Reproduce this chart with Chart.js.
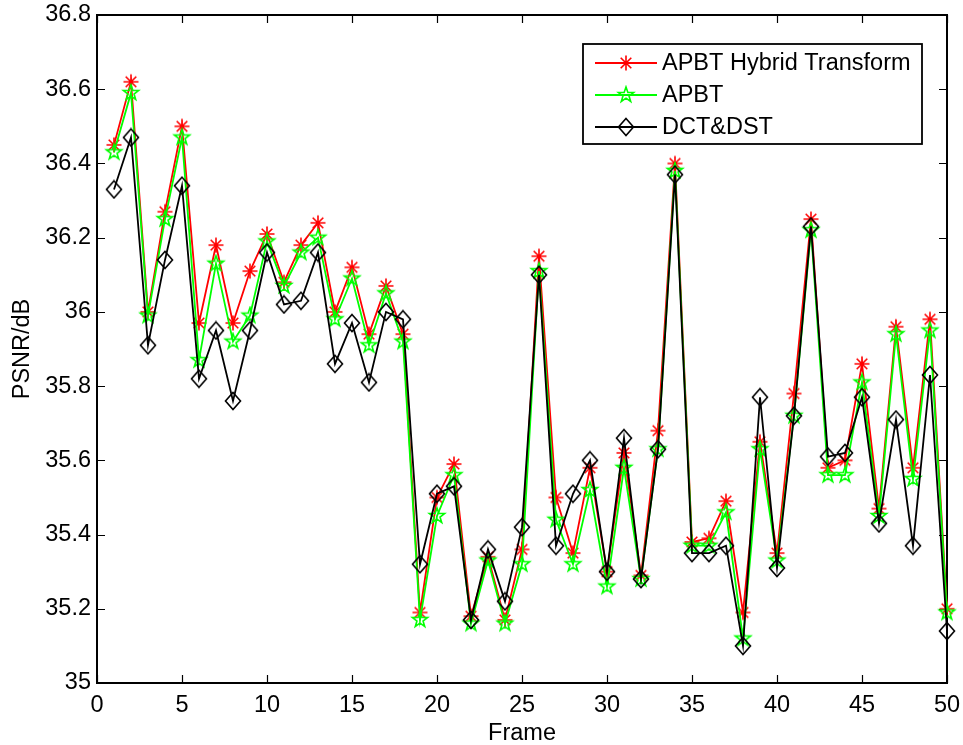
<!DOCTYPE html>
<html>
<head>
<meta charset="utf-8">
<script src="https://cdn.jsdelivr.net/npm/chart.js@4/dist/chart.umd.min.js"></script>
<style>
    body { margin: 0; background: #fff; }
    canvas { display: block; }
</style>
</head>
<body>
<canvas id="psnrChart" width="963" height="745"></canvas>
<script>
//#region Data
const frames = [1, 2, 3, 4, 5, 6, 7, 8, 9, 10, 11, 12, 13, 14, 15, 16, 17, 18, 19, 20,
    21, 22, 23, 24, 25, 26, 27, 28, 29, 30, 31, 32, 33, 34, 35, 36, 37, 38, 39, 40,
    41, 42, 43, 44, 45, 46, 47, 48, 49, 50]

const apbtHybrid = [36.45, 36.62, 36.00, 36.27, 36.50, 35.97, 36.18, 35.97, 36.11, 36.21,
    36.08, 36.18, 36.24, 36.00, 36.12, 35.94, 36.07, 35.94, 35.19, 35.50,
    35.59, 35.18, 35.34, 35.17, 35.36, 36.15, 35.50, 35.35, 35.58, 35.30,
    35.62, 35.29, 35.68, 36.40, 35.38, 35.39, 35.49, 35.19, 35.65, 35.35,
    35.78, 36.25, 35.58, 35.60, 35.86, 35.47, 35.96, 35.58, 35.98, 35.20]

const apbt = [36.43, 36.59, 35.99, 36.25, 36.47, 35.87, 36.13, 35.92, 35.99, 36.19,
    36.07, 36.16, 36.20, 35.98, 36.09, 35.91, 36.05, 35.92, 35.17, 35.45,
    35.56, 35.16, 35.33, 35.16, 35.32, 36.11, 35.44, 35.32, 35.52, 35.26,
    35.58, 35.28, 35.63, 36.38, 35.37, 35.37, 35.46, 35.12, 35.63, 35.33,
    35.72, 36.22, 35.56, 35.56, 35.81, 35.45, 35.94, 35.55, 35.95, 35.19]

const dctDst = [36.33, 36.47, 35.91, 36.14, 36.34, 35.82, 35.95, 35.76, 35.95, 36.16,
    36.02, 36.03, 36.16, 35.86, 35.97, 35.81, 36.00, 35.98, 35.32, 35.51,
    35.53, 35.17, 35.36, 35.22, 35.42, 36.10, 35.37, 35.51, 35.60, 35.30,
    35.66, 35.28, 35.63, 36.37, 35.35, 35.35, 35.37, 35.10, 35.77, 35.31,
    35.72, 36.23, 35.61, 35.62, 35.77, 35.43, 35.71, 35.37, 35.83, 35.14]

const seriesNames = ["APBT Hybrid Transform", "APBT", "DCT&DST"]
//#endregion

//#region Markers
MakeMarker = (kind, color) => {
    let c = document.createElement("canvas")
    c.width = 20
    c.height = 20
    let g = c.getContext("2d")
    g.strokeStyle = color
    g.lineWidth = 1.6
    g.translate(10, 10)
    g.beginPath()
    if (kind == "asterisk") {
        for (let k = 0; k < 4; k++) {
            let a = k * Math.PI / 4
            g.moveTo(-7.5 * Math.cos(a), -7.5 * Math.sin(a))
            g.lineTo(7.5 * Math.cos(a), 7.5 * Math.sin(a))
        }
    } else if (kind == "pentagram") {
        for (let k = 0; k < 10; k++) {
            let r = k % 2 ? 3.2 : 8
            let a = -Math.PI / 2 + k * Math.PI / 5
            k ? g.lineTo(r * Math.cos(a), r * Math.sin(a)) : g.moveTo(r * Math.cos(a), r * Math.sin(a))
        }
        g.closePath()
    } else {
        g.moveTo(0, -8.5)
        g.lineTo(7.5, 0)
        g.lineTo(0, 8.5)
        g.lineTo(-7.5, 0)
        g.closePath()
    }
    g.stroke()
    return c
}

const markers = [MakeMarker("asterisk", "#ff0000"), MakeMarker("pentagram", "#00ff00"), MakeMarker("diamond", "#000000")]
const colors = ["#ff0000", "#00ff00", "#000000"]
//#endregion

//#region Plugins
const fontFamily = "'Liberation Sans', Arial, sans-serif"

const boxPlugin = {
    id: "matlabBox",
    beforeDatasetsDraw: chart => {
        let { ctx, chartArea: a, scales: { x, y } } = chart
        ctx.save()
        ctx.strokeStyle = "#000"
        ctx.lineWidth = 1.2
        ctx.beginPath()
        x.ticks.forEach(t => {
            let px = Math.round(x.getPixelForValue(t.value)) + 0.5
            ctx.moveTo(px, a.bottom); ctx.lineTo(px, a.bottom - 8)
            ctx.moveTo(px, a.top); ctx.lineTo(px, a.top + 8)
        })
        y.ticks.forEach(t => {
            let py = Math.round(y.getPixelForValue(t.value)) + 0.5
            ctx.moveTo(a.left, py); ctx.lineTo(a.left + 8, py)
            ctx.moveTo(a.right, py); ctx.lineTo(a.right - 8, py)
        })
        ctx.stroke()
        ctx.lineWidth = 2
        ctx.strokeRect(a.left, a.top, a.right - a.left, a.bottom - a.top)
        ctx.restore()
    },
    afterDraw: chart => {
        let ctx = chart.ctx
        ctx.save()
        ctx.fillStyle = "#fff"
        ctx.fillRect(583, 44, 339, 100)
        ctx.strokeStyle = "#000"
        ctx.lineWidth = 1.8
        ctx.strokeRect(583, 44, 339, 100)
        ctx.font = "23.5px " + fontFamily
        ctx.textBaseline = "middle"
        seriesNames.forEach((name, i) => {
            let ly = 63 + i * 32
            ctx.strokeStyle = colors[i]
            ctx.lineWidth = 1.8
            ctx.beginPath()
            ctx.moveTo(595, ly)
            ctx.lineTo(657, ly)
            ctx.stroke()
            ctx.drawImage(markers[i], 626 - 10, ly - 10)
            ctx.fillStyle = "#000"
            ctx.fillText(name, 662, ly + 1)
        })
        ctx.restore()
    }
}
//#endregion

//#region Chart
CreateChart = () => {
    let seriesData = [apbtHybrid, apbt, dctDst]
    new Chart("psnrChart", {
        type: "line",
        data: {
            datasets: seriesData.map((values, i) => ({
                label: seriesNames[i],
                data: frames.map((f, k) => ({ x: f, y: values[k] })),
                borderColor: colors[i],
                borderWidth: 1.8,
                pointStyle: markers[i],
                pointRadius: 6,
                tension: 0,
                clip: false,
                order: 2 - i
            }))
        },
        options: {
            responsive: false,
            animation: false,
            layout: { padding: { top: 15, right: 16, left: 0, bottom: 0 } },
            plugins: { legend: { display: false }, tooltip: { enabled: false } },
            scales: {
                x: {
                    type: "linear",
                    min: 0,
                    max: 50,
                    afterFit: s => {
                        s.height = 62
                        s.paddingLeft = 0
                        s.paddingRight = 0
                    },
                    grid: { display: false, drawTicks: false },
                    border: { display: false },
                    ticks: { stepSize: 5, autoSkip: false, maxRotation: 0, padding: 8, color: "#000", font: { family: fontFamily, size: 23.5 } },
                    title: { display: true, text: "Frame", color: "#000", padding: 0, font: { family: fontFamily, size: 23.5, lineHeight: 1 } }
                },
                y: {
                    min: 35,
                    max: 36.8,
                    afterFit: s => {
                        s.width = 97
                        s.paddingTop = 0
                        s.paddingBottom = 0
                    },
                    grid: { display: false, drawTicks: false },
                    border: { display: false },
                    ticks: {
                        stepSize: 0.2,
                        padding: 6,
                        color: "#000",
                        font: { family: fontFamily, size: 23.5 },
                        callback: v => String(parseFloat(v.toFixed(1)))
                    },
                    title: { display: true, text: "PSNR/dB", color: "#000", padding: { top: 11, bottom: 0 }, font: { family: fontFamily, size: 23.5, lineHeight: 1 } }
                }
            }
        },
        plugins: [boxPlugin]
    })
}
//#endregion

window.onload = CreateChart
</script>
</body>
</html>
